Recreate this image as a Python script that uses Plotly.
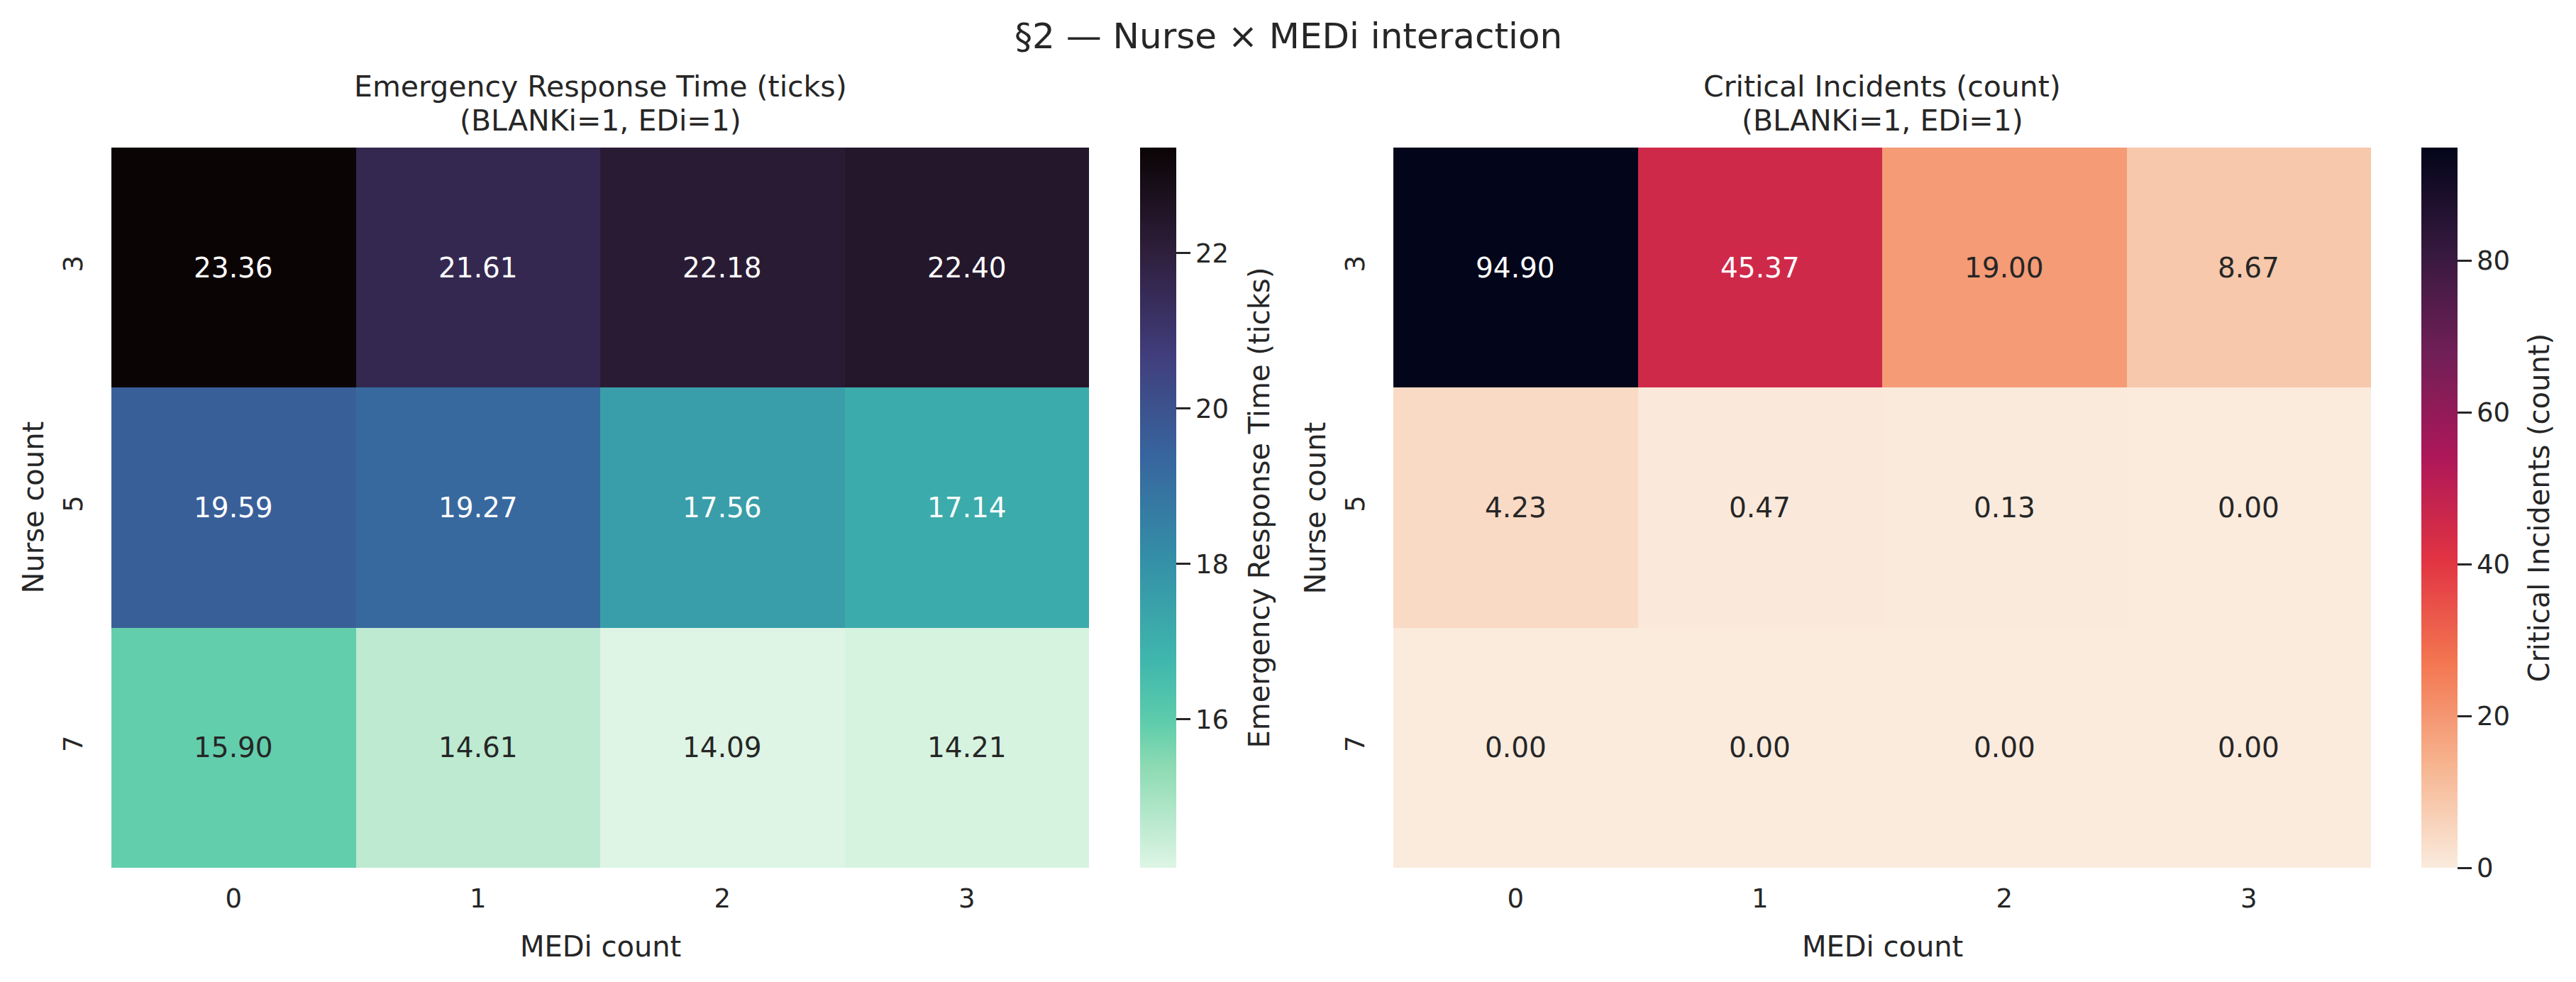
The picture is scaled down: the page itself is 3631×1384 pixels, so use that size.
import plotly.graph_objects as go

# ---------------- data ----------------
medi_counts = ["0", "1", "2", "3"]
nurse_counts = ["3", "5", "7"]

response_time = [
    [23.36, 21.61, 22.18, 22.40],
    [19.59, 19.27, 17.56, 17.14],
    [15.90, 14.61, 14.09, 14.21],
]
critical_incidents = [
    [94.90, 45.37, 19.00, 8.67],
    [4.23, 0.47, 0.13, 0.00],
    [0.00, 0.00, 0.00, 0.00],
]

left_title = ["Emergency Response Time (ticks)", "(BLANKi=1, EDi=1)"]
right_title = ["Critical Incidents (count)", "(BLANKi=1, EDi=1)"]
left_cbar_label = "Emergency Response Time (ticks)"
right_cbar_label = "Critical Incidents (count)"
suptitle = "§2 — Nurse × MEDi interaction"
x_label = "MEDi count"
y_label = "Nurse count"
left_cbar_ticks = [16, 18, 20, 22]
right_cbar_ticks = [0, 20, 40, 60, 80]

# ---------------- colour scales (seaborn mako_r / rocket_r) ----------------
mako_pts = [(0, "#0B0405"), (1 / 7, "#2e1e3b"), (2 / 7, "#413d7b"), (3 / 7, "#37659e"),
            (4 / 7, "#348fa7"), (5 / 7, "#40b7ad"), (0.80, "#5fcdac"), (6 / 7, "#8bdab2"),
            (1, "#DEF5E5")]
rocket_pts = [(0, "#03051A"), (1 / 7, "#35193e"), (2 / 7, "#701f57"), (3 / 7, "#ad1759"),
              (4 / 7, "#e13342"), (5 / 7, "#f37651"), (6 / 7, "#f6b48f"), (1, "#FAEBDD")]


def reversed_scale(pts):
    return [[1 - p, c] for p, c in reversed(pts)]


mako_r = reversed_scale(mako_pts)
rocket_r = reversed_scale(rocket_pts)


def hex2rgb(h):
    h = h.lstrip("#")
    return [int(h[i:i + 2], 16) / 255 for i in (0, 2, 4)]


def sample(scale, t):
    t = min(max(t, 0), 1)
    for (p0, c0), (p1, c1) in zip(scale[:-1], scale[1:]):
        if p0 <= t <= p1:
            f = 0 if p1 == p0 else (t - p0) / (p1 - p0)
            a, b = hex2rgb(c0), hex2rgb(c1)
            return [a[i] + (b[i] - a[i]) * f for i in range(3)]
    return hex2rgb(scale[-1][1])


def lum(rgb):
    lin = [c / 12.92 if c <= 0.03928 else ((c + 0.055) / 1.055) ** 2.4 for c in rgb]
    return 0.2126 * lin[0] + 0.7152 * lin[1] + 0.0722 * lin[2]


W, H = 3631, 1384
FONT = "DejaVu Sans"
TXT = "#262626"
F_SUP, F_TITLE, F_LABEL, F_TICK, F_ANN = 50, 41, 40, 37, 39

# layout geometry in pixels
top_px, bot_px = 208, 1223
L_x0, L_x1 = 157, 1535
R_x0, R_x1 = 1964, 3342
cbL_x, cbR_x = 1607, 3413
cb_w = 51

px = lambda v: v / W
py = lambda v: 1 - v / H

fig = go.Figure()


def add_heat(z, scale, xa, ya, cbx, cticks):
    zmin = min(min(r) for r in z)
    zmax = max(max(r) for r in z)
    fig.add_trace(go.Heatmap(
        z=z, x=medi_counts, y=nurse_counts,
        colorscale=scale, zmin=zmin, zmax=zmax,
        xaxis=xa, yaxis=ya, xgap=0, ygap=0,
        hoverinfo="skip",
        colorbar=dict(
            x=px(cbx), xanchor="left", xpad=0, ypad=0,
            y=py(bot_px), yanchor="bottom",
            len=(bot_px - top_px) / H, lenmode="fraction",
            thickness=cb_w, thicknessmode="pixels",
            outlinewidth=0,
            tickmode="array", tickvals=cticks,
            ticks="outside", ticklen=20, tickwidth=3, tickcolor=TXT,
            tickfont=dict(family=FONT, size=F_TICK, color=TXT),
        ),
    ))
    annots = []
    for i in range(len(nurse_counts)):
        for j in range(len(medi_counts)):
            v = z[i][j]
            t = (v - zmin) / (zmax - zmin) if zmax > zmin else 0
            col = TXT if lum(sample(scale, t)) > 0.408 else "white"
            annots.append(dict(
                x=j, y=i, xref=xa, yref=ya,
                text=f"{v:.2f}", showarrow=False,
                font=dict(family=FONT, size=F_ANN, color=col),
            ))
    return annots


ann = []
ann += add_heat(response_time, mako_r, "x", "y", cbL_x, left_cbar_ticks)
ann += add_heat(critical_incidents, rocket_r, "x2", "y2", cbR_x, right_cbar_ticks)

axis_common = dict(
    type="category",
    showgrid=False, zeroline=False, showline=False,
    ticks="", tickfont=dict(family=FONT, size=F_TICK, color=TXT),
)
xr = [-0.5, len(medi_counts) - 0.5]
yr = [len(nurse_counts) - 0.5, -0.5]

fig.update_layout(
    width=W, height=H,
    margin=dict(l=0, r=0, t=0, b=0),
    paper_bgcolor="white", plot_bgcolor="white",
    font=dict(family=FONT, color=TXT),
    xaxis=dict(domain=[px(L_x0), px(L_x1)], anchor="y", categoryorder="array",
               categoryarray=medi_counts, range=xr, ticklabelstandoff=18, **axis_common),
    yaxis=dict(domain=[py(bot_px), py(top_px)], anchor="x", categoryorder="array",
               categoryarray=nurse_counts, range=yr,
               tickangle=-90, ticklabelstandoff=33, **axis_common),
    xaxis2=dict(domain=[px(R_x0), px(R_x1)], anchor="y2", categoryorder="array",
                categoryarray=medi_counts, range=xr, ticklabelstandoff=18, **axis_common),
    yaxis2=dict(domain=[py(bot_px), py(top_px)], anchor="x2", categoryorder="array",
                categoryarray=nurse_counts, range=yr,
                tickangle=-90, ticklabelstandoff=33, **axis_common),
    showlegend=False,
)

cy = py((top_px + bot_px) / 2)
Lc = px((L_x0 + L_x1) / 2)
Rc = px((R_x0 + R_x1) / 2)


def lab(x, y, text, size, angle=0):
    return dict(x=x, y=y, xref="paper", yref="paper", text=text, showarrow=False,
                textangle=angle, font=dict(family=FONT, size=size, color=TXT),
                xanchor="center", yanchor="middle")


ann += [
    lab(0.5, py(51), suptitle, F_SUP),
    lab(Lc, py(122), left_title[0], F_TITLE),
    lab(Lc, py(170), left_title[1], F_TITLE),
    lab(Rc, py(122), right_title[0], F_TITLE),
    lab(Rc, py(170), right_title[1], F_TITLE),
    lab(Lc, py(1334), x_label, F_LABEL),
    lab(Rc, py(1334), x_label, F_LABEL),
    lab(px(46), cy, y_label, F_LABEL, angle=-90),
    lab(px(1853), cy, y_label, F_LABEL, angle=-90),
    lab(px(1774), cy, left_cbar_label, F_LABEL, angle=-90),
    lab(px(3578), cy, right_cbar_label, F_LABEL, angle=-90),
]
fig.update_layout(annotations=ann)

fig.write_html("out.html")
